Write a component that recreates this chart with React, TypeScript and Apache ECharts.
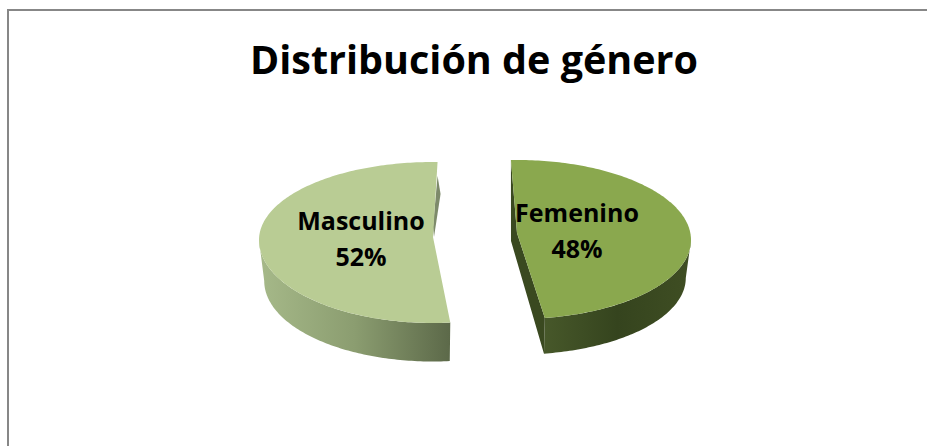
import React, { useEffect, useRef } from "react";
import * as echarts from "echarts";

const titleText = "Distribución de género";
const categories = ["Femenino", "Masculino"];
const values = [48, 52];
const topColors = ["#8aa84e", "#b9cc94"];
const sideStops = [
  ["#47582a", "#35441e", "#3f4e23"],
  ["#a6b989", "#8b9d70", "#5c6949"],
];

const W = 927;
const H = 446;
const FONT = "'Open Sans', sans-serif";

// Placement of each exploded slice: ellipse centre, radii, apex, start angle
const layouts = [
  { cx: 517, cy: 240, rx: 174, ryTop: 80, ryBottom: 79, depth: 38, ax: 517, ay: 233, start: -2, labelX: 577, labelY: 230 },
  { cx: 433, cy: 240, rx: 174, ryTop: 78, ryBottom: 83, depth: 41, ax: 433, ay: 237, start: 174.3, labelX: 361, labelY: 238 },
];
const SHRINK = 0.97;

const total = values.reduce((a, b) => a + b, 0);

function rim(l: any, deg: number, lower: boolean): number[] {
  const r = (deg * Math.PI) / 180;
  const k = lower ? SHRINK : 1;
  const c = Math.cos(r);
  const ry = c > 0 ? l.ryTop : l.ryBottom;
  return [l.cx + l.rx * k * Math.sin(r), l.cy + (lower ? l.depth : 0) - ry * k * c];
}

function arc(l: any, a: number, b: number, lower: boolean): number[][] {
  const pts: number[][] = [];
  const n = Math.max(2, Math.ceil(Math.abs(b - a)));
  for (let i = 0; i <= n; i++) pts.push(rim(l, a + ((b - a) * i) / n, lower));
  return pts;
}

function renderSlice(params: any, api: any) {
  const i = params.dataIndex;
  const l = layouts[i];
  const v = api.value(0) as number;
  const end = l.start + (v / total) * 360;
  const children: any[] = [];
  const stops = sideStops[i];
  const grad = new echarts.graphic.LinearGradient(0, 0, 1, 0, [
    { offset: 0, color: stops[0] },
    { offset: 0.5, color: stops[1] },
    { offset: 1, color: stops[2] },
  ]);

  // Outer wall
  const wallFrom = i === 0 ? 90 : l.start;
  const wallTo = i === 0 ? end : 270;
  children.push({
    type: "polygon",
    shape: { points: [...arc(l, wallFrom, wallTo, false), ...arc(l, wallTo, wallFrom, true)] },
    style: { fill: grad },
  });

  // Cut face seen on the inner side
  const tip = rim(l, i === 0 ? l.start : end, false);
  const foot = rim(l, i === 0 ? end : l.start, false);
  const footLow = rim(l, i === 0 ? end : l.start, true);
  if (i === 0) {
    children.push({
      type: "polygon",
      shape: { points: [tip, [l.ax - 6, l.ay + 8], footLow, foot, [l.ax, l.ay]] },
      style: { fill: "#3a4920" },
    });
  } else {
    children.push({
      type: "polygon",
      shape: { points: [[tip[0], tip[1] + 14], [tip[0] + 3, tip[1] + 32], [l.ax + 1, l.ay], [l.ax, l.ay - 10]] },
      style: { fill: "#7d8a6a" },
    });
  }

  // Top face
  children.push({
    type: "polygon",
    shape: { points: [[l.ax, l.ay], ...arc(l, l.start, end, false)] },
    style: { fill: topColors[i] },
  });

  // Label
  children.push({
    type: "text",
    style: {
      x: l.labelX,
      y: l.labelY,
      text: `${categories[i]}\n${v}%`,
      fill: "#000",
      font: `bold 25px ${FONT}`,
      lineHeight: 36,
      align: "center",
      verticalAlign: "middle",
    },
  });

  return { type: "group", children };
}

export default function App() {
  const ref = useRef<HTMLDivElement>(null);
  useEffect(() => {
    document.body.style.margin = "0";
    const chart = echarts.init(ref.current!, null, { renderer: "svg", width: W, height: H });
    chart.setOption({
      animation: false,
      backgroundColor: "#ffffff",
      title: {
        text: titleText,
        left: 469,
        top: 34,
        textAlign: "center",
        textStyle: { fontFamily: FONT, fontWeight: "bold", fontSize: 39.5, color: "#000" },
      },
      graphic: [
        { type: "rect", shape: { x: 7, y: 9, width: 2, height: 437 }, style: { fill: "#878787" } },
        { type: "rect", shape: { x: 7, y: 9, width: 920, height: 2 }, style: { fill: "#878787" } },
      ],
      series: [
        {
          type: "custom",
          coordinateSystem: "none",
          renderItem: renderSlice,
          data: values.map((v, i) => ({ name: categories[i], value: [v] })),
        },
      ],
    });
    return () => chart.dispose();
  }, []);
  return <div ref={ref} style={{ width: W, height: H }} />;
}
